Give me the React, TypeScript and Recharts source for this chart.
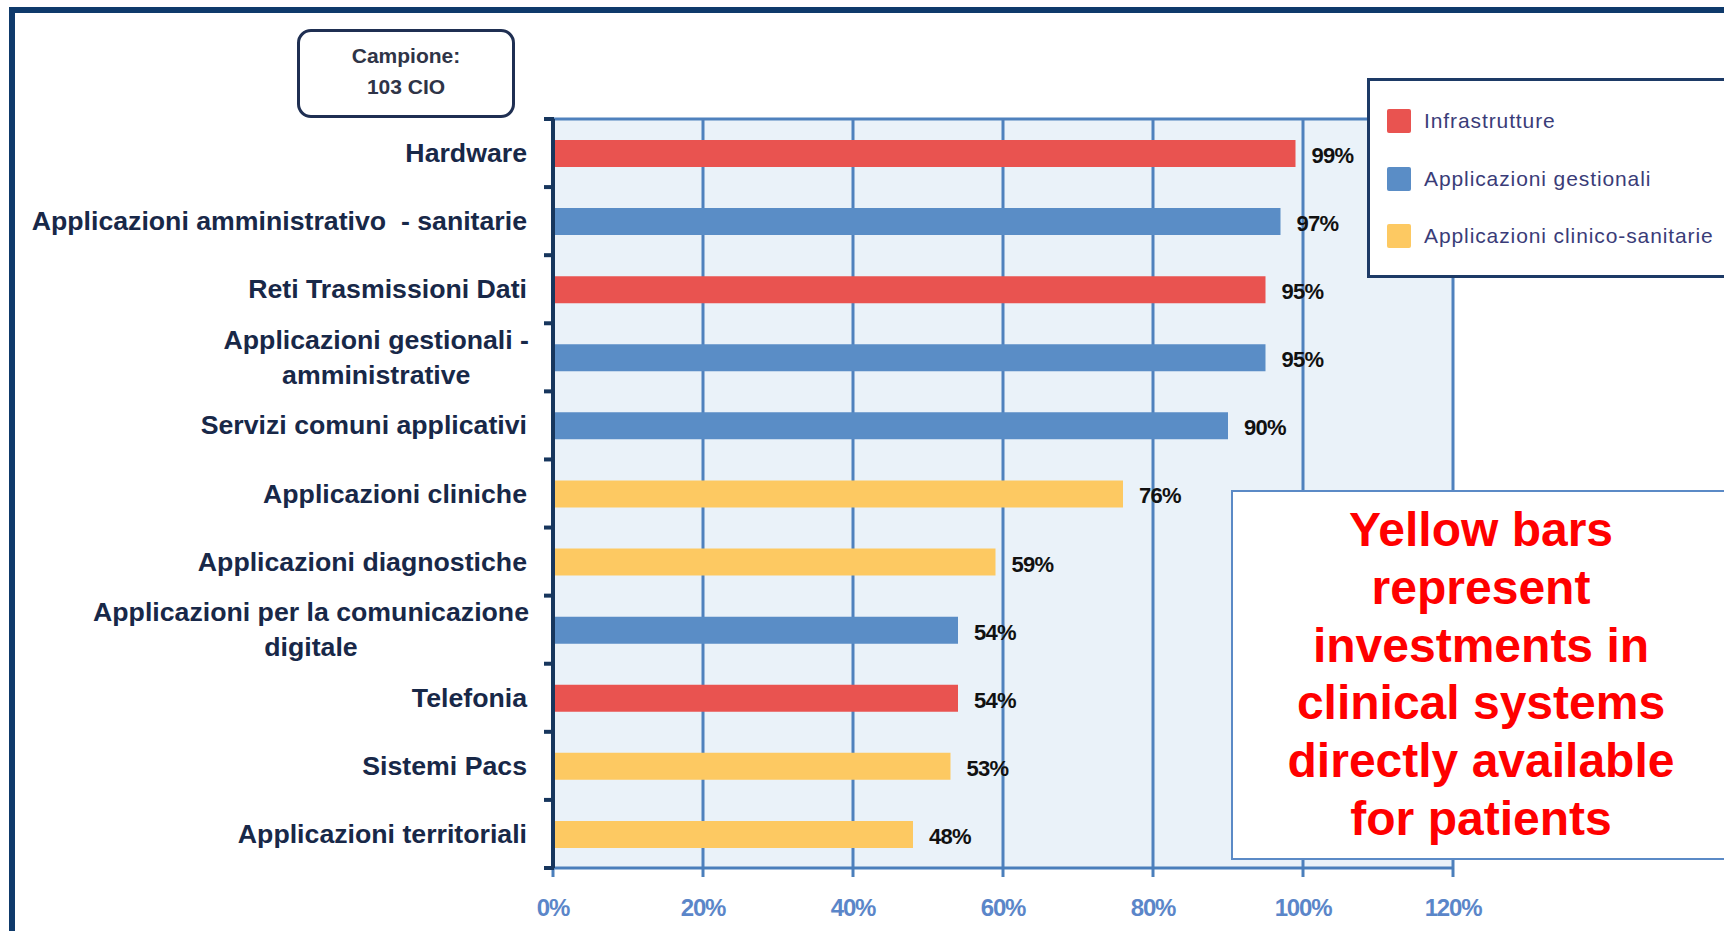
import React from 'react';
import { BarChart, Bar, XAxis, YAxis, CartesianGrid, Cell, LabelList } from 'recharts';

const categories = [
  'Hardware',
  'Applicazioni amministrativo  - sanitarie',
  'Reti Trasmissioni Dati',
  'Applicazioni gestionali -\namministrative',
  'Servizi comuni applicativi',
  'Applicazioni cliniche',
  'Applicazioni diagnostiche',
  'Applicazioni per la comunicazione\ndigitale',
  'Telefonia',
  'Sistemi Pacs',
  'Applicazioni territoriali',
];

const values = [99, 97, 95, 95, 90, 76, 59, 54, 54, 53, 48];

const groups = [
  'Infrastrutture',
  'Applicazioni gestionali',
  'Infrastrutture',
  'Applicazioni gestionali',
  'Applicazioni gestionali',
  'Applicazioni clinico-sanitarie',
  'Applicazioni clinico-sanitarie',
  'Applicazioni gestionali',
  'Infrastrutture',
  'Applicazioni clinico-sanitarie',
  'Applicazioni clinico-sanitarie',
];

const legendItems = ['Infrastrutture', 'Applicazioni gestionali', 'Applicazioni clinico-sanitarie'];
const legendColors = ['#e95350', '#5a8dc6', '#fdc962'];

const xTicks = [0, 20, 40, 60, 80, 100, 120];

const noteLines = [
  'Yellow bars',
  'represent',
  'investments in',
  'clinical systems',
  'directly available',
  'for patients',
];

const data = categories.map((name, i) => ({ name, value: values[i], group: groups[i] }));
const colorOf = (g: string) => legendColors[legendItems.indexOf(g)];

const SANS = '"Liberation Sans", Arial, sans-serif';
const NAVY = '#17365d';
const LABEL_FONT = 26.7;

let ctx: CanvasRenderingContext2D | null = null;
const measure = (s: string) => {
  if (!ctx) ctx = document.createElement('canvas').getContext('2d');
  if (!ctx) return s.length * LABEL_FONT * 0.55;
  ctx.font = `bold ${LABEL_FONT}px ${SANS}`;
  return ctx.measureText(s).width;
};

// category label plus the boundary tick marks of the band
const CategoryTick = (props: any) => {
  const { x, y, payload, index } = props;
  const half = payload.offset || 34;
  const lines = String(payload.value).split('\n');
  const right = x - 26;
  const style = { fontFamily: SANS, fontSize: LABEL_FONT, fontWeight: 'bold' as const, fill: '#182848', whiteSpace: 'pre' as const };
  let label;
  if (lines.length === 1) {
    label = (
      <text x={right} y={y} textAnchor="end" dominantBaseline="central" style={style}>
        {lines[0]}
      </text>
    );
  } else {
    const w = Math.max(...lines.map(measure));
    const cx = right + 2 - w / 2;
    label = (
      <g>
        {lines.map((l, i) => (
          <text key={i} x={cx} y={y + (i - (lines.length - 1) / 2) * 35} textAnchor="middle" dominantBaseline="central" style={style}>
            {l}
          </text>
        ))}
      </g>
    );
  }
  return (
    <g>
      {label}
      <line x1={x - 9} x2={x + 1} y1={y - half} y2={y - half} stroke={NAVY} strokeWidth={4} />
      {index === categories.length - 1 && (
        <line x1={x - 9} x2={x + 1} y1={y + half} y2={y + half} stroke={NAVY} strokeWidth={4} />
      )}
    </g>
  );
};

const ValueLabel = (props: any) => {
  const { x, y, width, height, value } = props;
  return (
    <text
      x={Number(x) + Number(width) + 16}
      y={Number(y) + Number(height) / 2 + 2}
      dominantBaseline="central"
      style={{ fontFamily: SANS, fontSize: 22, fontWeight: 'bold', fill: '#111', letterSpacing: -0.8 }}
    >
      {value}%
    </text>
  );
};

const App: React.FC = () => {
  return (
    <div style={{ position: 'absolute', left: 0, top: 0, width: 1724, height: 931, overflow: 'hidden', background: '#fff', fontFamily: SANS }}>
      <div style={{ position: 'absolute', left: 9, top: 7, width: 1900, height: 1100, border: '6px solid #0f3a6b' }} />

      <div style={{ position: 'absolute', left: 0, top: 0 }}>
        <BarChart width={1724} height={931} layout="vertical" data={data} margin={{ top: 119, right: 271, bottom: 11, left: 0 }}>
          <CartesianGrid
            fill="#eaf2f9"
            stroke="#4f81bd"
            strokeWidth={3}
            horizontalCoordinatesGenerator={(p: any) => [p.offset.top]}
          />
          <XAxis
            type="number"
            domain={[0, 120]}
            ticks={xTicks}
            tickFormatter={(v: number) => `${v}%`}
            height={52}
            axisLine={{ stroke: '#4a7ebb', strokeWidth: 3 }}
            tickLine={{ stroke: '#4a7ebb', strokeWidth: 3 }}
            tickSize={9}
            tickMargin={22}
            tick={{ fill: '#5b86c9', fontSize: 24, fontWeight: 'bold', fontFamily: SANS, letterSpacing: -1.2 }}
          />
          <YAxis
            type="category"
            dataKey="name"
            width={553}
            axisLine={{ stroke: NAVY, strokeWidth: 4 }}
            tickLine={false}
            tickSize={0}
            tickMargin={0}
            interval={0}
            tick={<CategoryTick />}
          />
          <Bar dataKey="value" barSize={27} isAnimationActive={false}>
            {data.map((d, i) => (
              <Cell key={i} fill={colorOf(d.group)} />
            ))}
            <LabelList dataKey="value" content={<ValueLabel />} />
          </Bar>
        </BarChart>
      </div>

      <div
        style={{
          position: 'absolute',
          left: 297,
          top: 29,
          width: 212,
          height: 75,
          border: '3px solid #1f2f52',
          borderRadius: 14,
          background: '#fff',
          color: '#2f3447',
          fontWeight: 'bold',
          fontSize: 21,
          lineHeight: '31px',
          textAlign: 'center',
          paddingTop: 8,
          boxSizing: 'content-box',
        }}
      >
        <div>Campione:</div>
        <div>103 CIO</div>
      </div>

      <div
        style={{
          position: 'absolute',
          left: 1367,
          top: 78,
          width: 500,
          height: 194,
          border: '3px solid #1d3a66',
          background: '#fff',
        }}
      >
        {legendItems.map((item, i) => (
          <div key={item} style={{ position: 'absolute', left: 17, top: 28 + i * 57.5, height: 24, display: 'flex', alignItems: 'center' }}>
            <div style={{ width: 24, height: 24, borderRadius: 2, background: legendColors[i] }} />
            <span style={{ marginLeft: 13, fontSize: 21, color: '#3a3c78', letterSpacing: 0.9 }}>{item}</span>
          </div>
        ))}
      </div>

      <div
        style={{
          position: 'absolute',
          left: 1231,
          top: 490,
          width: 600,
          height: 366,
          border: '2px solid #5b8ac6',
          background: '#fff',
        }}
      >
        {noteLines.map((l, i) => (
          <div
            key={i}
            style={{
              position: 'absolute',
              left: 0,
              width: 496,
              top: 9 + i * 57.8,
              height: 58,
              lineHeight: '58px',
              textAlign: 'center',
              color: '#ff0000',
              fontWeight: 'bold',
              fontSize: 48,
              whiteSpace: 'nowrap',
            }}
          >
            {l}
          </div>
        ))}
      </div>
    </div>
  );
};

export default App;
